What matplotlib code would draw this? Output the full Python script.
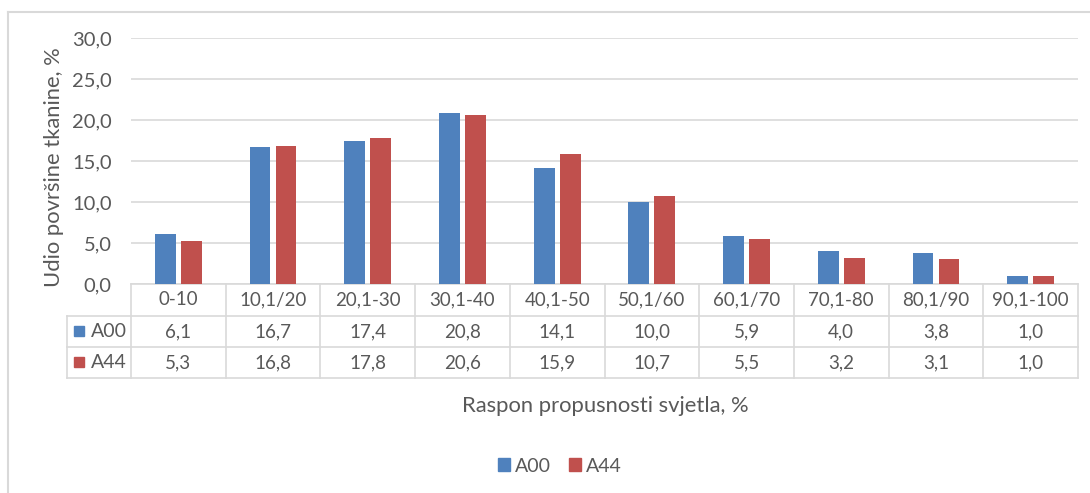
import matplotlib.pyplot as plt
import matplotlib.transforms as mtransforms
from matplotlib.patches import Patch
import numpy as np

plt.rcParams['font.family'] = ['Lato', 'DejaVu Sans']

categories = ["0-10", "10,1/20", "20,1-30", "30,1-40", "40,1-50",
              "50,1/60", "60,1/70", "70,1-80", "80,1/90", "90,1-100"]
a00 = [6.1, 16.7, 17.4, 20.8, 14.1, 10.0, 5.9, 4.0, 3.8, 1.0]
a44 = [5.3, 16.8, 17.8, 20.6, 15.9, 10.7, 5.5, 3.2, 3.1, 1.0]
series = ["A00", "A44"]
yticks = [0, 5, 10, 15, 20, 25, 30]

blue = "#4F81BD"
red = "#C0504D"
txt = "#595959"
grid = "#D9D9D9"

W, H = 1090, 493
fig = plt.figure(figsize=(W / 100, H / 100), dpi=100)
ax = fig.add_axes([131 / W, 209 / H, 947 / W, 246 / H])

x = np.arange(len(categories))
bw = 0.22
ax.bar(x - 0.137, a00, bw, color=blue, zorder=3)
ax.bar(x + 0.137, a44, bw, color=red, zorder=3)

ax.set_xlim(-0.5, len(categories) - 0.5)
ax.set_ylim(0, 30)
ax.set_yticks(yticks)
ax.set_yticklabels([f"{v:.1f}".replace(".", ",") for v in yticks])
ax.set_xticks([])
ax.tick_params(axis="y", length=0, pad=14, labelsize=14.5, labelcolor=txt)
ax.grid(axis="y", color=grid, linewidth=1.2, zorder=0)
for s in ax.spines.values():
    s.set_visible(False)

# data table below the axis
tr = mtransforms.blended_transform_factory(ax.transData, ax.transAxes)
rows = [0.0, -0.130, -0.256, -0.382]
left = -1.176
right = len(categories) - 0.5
lk = dict(color=grid, linewidth=1.2, transform=tr, clip_on=False)
ax.plot([-0.5, right], [rows[0], rows[0]], **lk)
for r in rows[1:]:
    ax.plot([left, right], [r, r], **lk)
for e in np.arange(-0.5, right + 0.01, 1.0):
    ax.plot([e, e], [rows[0], rows[3]], **lk)
ax.plot([left, left], [rows[1], rows[3]], **lk)

tk = dict(transform=tr, ha="center", va="center", fontsize=13.5, color=txt)
for i, c in enumerate(categories):
    ax.text(i, (rows[0] + rows[1]) / 2, c, **tk)
    ax.text(i, (rows[1] + rows[2]) / 2, f"{a00[i]:.1f}".replace(".", ","), **tk)
    ax.text(i, (rows[2] + rows[3]) / 2, f"{a44[i]:.1f}".replace(".", ","), **tk)

for name, col, (r0, r1) in zip(series, [blue, red], [(rows[1], rows[2]), (rows[2], rows[3])]):
    ym = (r0 + r1) / 2
    ax.plot([left + 0.13], [ym], marker="s", markersize=7.5, color=col,
            transform=tr, clip_on=False)
    ax.text(left + 0.25, ym, name, transform=tr, ha="left", va="center",
            fontsize=14, color=txt)

fig.text(54 / W, 1 - 167 / H, "Udio površine tkanine, %", rotation=90,
         ha="center", va="center", fontsize=15.8, color=txt)
fig.text(605 / W, 1 - 406 / H, "Raspon propusnosti svjetla, %",
         ha="center", va="center", fontsize=15.8, color=txt)

handles = [Patch(color=blue, label="A00"), Patch(color=red, label="A44")]
leg = fig.legend(handles=handles, loc="center", bbox_to_anchor=(560 / W, 1 - 466 / H),
                 ncol=2, frameon=False, fontsize=14, handlelength=0.6,
                 handleheight=0.6, handletextpad=0.3, columnspacing=0.9)
for t in leg.get_texts():
    t.set_color(txt)

# chart border (top and left edges)
fig.add_artist(plt.Line2D([8 / W, 1], [1 - 12 / H, 1 - 12 / H], color="#D9D9D9",
                          linewidth=1.5, transform=fig.transFigure))
fig.add_artist(plt.Line2D([8 / W, 8 / W], [0, 1 - 12 / H], color="#D9D9D9",
                          linewidth=1.5, transform=fig.transFigure))

fig.savefig("out.png", dpi=100)
